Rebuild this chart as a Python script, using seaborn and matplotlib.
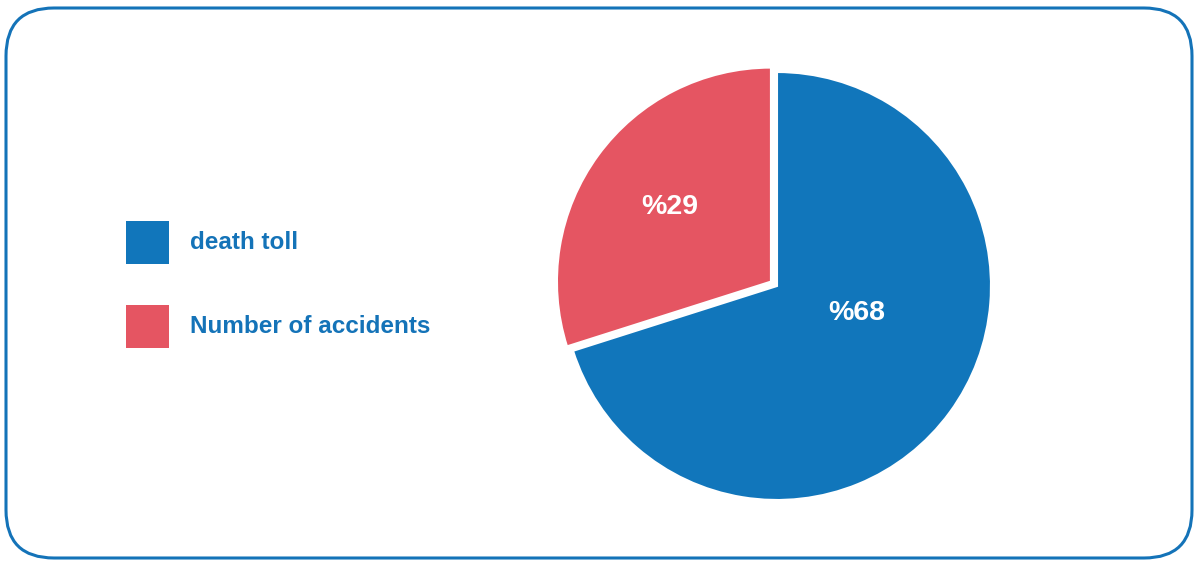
import matplotlib
matplotlib.use("Agg")
import matplotlib.pyplot as plt
from matplotlib.patches import FancyBboxPatch, Rectangle
import seaborn as sns

sns.set_theme(style="white")
plt.rcParams["font.family"] = ["Liberation Sans", "DejaVu Sans"]

# Data
categories = ["death toll", "Number of accidents"]
values = [68, 29]
colors = ["#1176BB", "#E55562"]
text_color = "#1473B8"

W, H = 1198, 561
fig = plt.figure(figsize=(W / 100, H / 100), dpi=100)
fig.patch.set_facecolor("white")

# Rounded frame around the whole card
frame_ax = fig.add_axes([0, 0, 1, 1])
frame_ax.set_xlim(0, W)
frame_ax.set_ylim(H, 0)
frame_ax.axis("off")
frame_ax.add_patch(FancyBboxPatch((6, 8), W - 12, H - 11,
                                  boxstyle="round,pad=0,rounding_size=48",
                                  fill=False, edgecolor="#1473B8", linewidth=2.2))

# Legend entries drawn as squares with labels
for i, (name, col) in enumerate(zip(categories, colors)):
    y0 = 221 + i * 84
    frame_ax.add_patch(Rectangle((126, y0), 43, 43, facecolor=col, edgecolor="none"))
    frame_ax.text(190, y0 + 21.5, name, color=text_color, fontsize=17.5,
                  fontweight="bold", va="center", ha="left")

# Pie chart
cx, cy, r = 777, 286, 214
half = 250
ax = fig.add_axes([(cx - half) / W, (H - cy - half) / H, 2 * half / W, 2 * half / H])

wedges, _ = ax.pie(values, colors=colors, startangle=90, counterclock=False,
                   explode=[0, 0.035], radius=1,
                   wedgeprops=dict(edgecolor="white", linewidth=1.5))
ax.set_xlim(-half / r, half / r)
ax.set_ylim(-half / r, half / r)
ax.set_aspect("equal")
ax.axis("off")

label_pos = [(80 / r, -27 / r), (-107 / r, 79 / r)]
for v, (lx, ly) in zip(values, label_pos):
    ax.text(lx, ly, f"%{v}", color="white", fontsize=20.5, fontweight="bold",
            ha="center", va="center")

fig.savefig("out.png", dpi=100, facecolor="white")
